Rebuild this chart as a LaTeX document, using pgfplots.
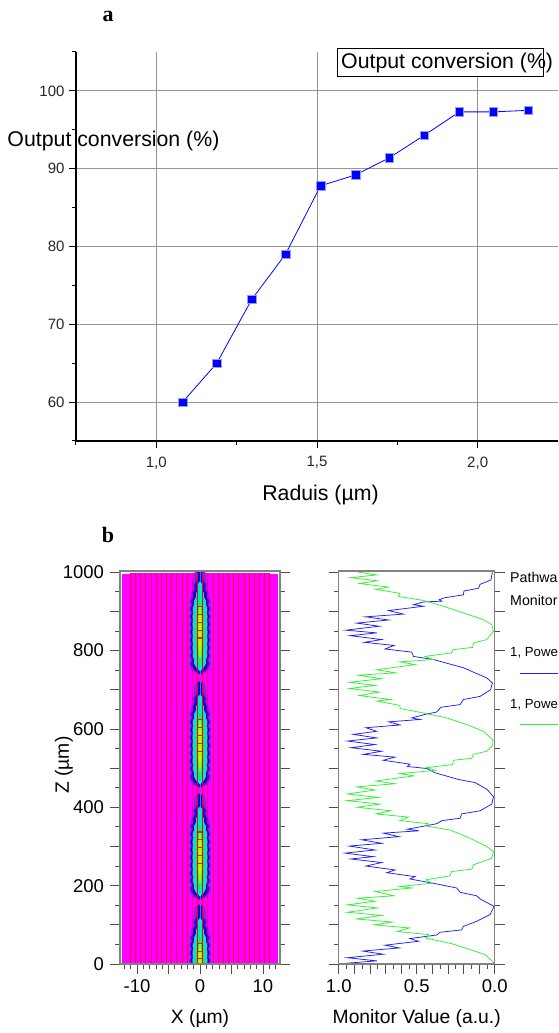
\documentclass[border=0pt]{standalone}
\usepackage{pgfplots}
\usepackage{pgfplotstable}
\usepackage{fontspec}
\pgfplotsset{compat=1.18}
\setmainfont{Liberation Sans}
\newfontfamily\serifb{Liberation Serif}
\definecolor{bgm}{RGB}{255,0,255}
\definecolor{lineR}{RGB}{255,0,70}
\definecolor{haloc}{RGB}{140,30,240}
\definecolor{bluec}{RGB}{20,0,225}
\definecolor{cyanc}{RGB}{0,225,225}
\definecolor{greenc}{RGB}{0,240,120}
\definecolor{yellowc}{RGB}{190,240,0}
\definecolor{linegreen}{RGB}{50,240,50}
\definecolor{lineblue}{RGB}{30,30,245}
\definecolor{gridg}{RGB}{150,150,150}
\definecolor{frameg}{RGB}{130,130,130}

\pgfplotstableread{
z w0 w1 w2 w3 w4
-8 0 0 0 0 0
0 1.2 0.7 0 0 0
10 1.6 1.2 0.6 0 0
20 1.75 1.45 0.95 0.3 0
30 1.55 1.22 0.95 0.45 0
40 1.8 1.5 1.15 0.6 0.15
50 1.6 1.28 1.05 0.65 0.2
60 1.8 1.52 1.2 0.7 0.25
70 1.6 1.3 1.1 0.7 0.3
80 1.8 1.52 1.22 0.75 0.35
90 1.6 1.3 1.1 0.75 0.35
100 1.8 1.52 1.22 0.78 0.38
110 1.6 1.3 1.1 0.75 0.35
120 1.8 1.52 1.22 0.75 0.35
130 1.6 1.3 1.1 0.72 0.3
140 1.8 1.52 1.2 0.7 0.28
150 1.6 1.28 1.05 0.65 0.2
160 1.8 1.5 1.15 0.6 0.15
170 1.55 1.25 0.95 0.45 0
180 1.7 1.42 0.95 0.3 0
190 1.4 1.08 0.6 0 0
200 1.4 1.1 0.6 0.2 0
210 1.1 0.8 0.3 0 0
220 1.2 0.9 0.45 0 0
230 1.0 0.55 0 0 0
240 0.95 0.45 0 0 0
256 0.8 0.4 0 0 0
264 0 0 0 0 0
}\shape

\pgfplotstableread{
z m
85 0
105 0
125 0
145 0
165 0
}\rungs

\pgfplotstableread{
v z
0.015 1000
0.024 980
0.094 969
0.103 959
0.197 952
0.201 942
0.318 935
0.355 930
0.340 926
0.457 924
0.520 917
0.457 913
0.680 902
0.585 893
0.827 886
0.680 878
0.885 870
0.740 862
0.955 852
0.756 845
0.927 838
0.724 828
0.835 821
0.645 813
0.703 804
0.532 796
0.521 785
0.393 777
0.200 756
0.137 745
0.050 730
0.015 717
0.026 700
0.094 683
0.200 675
0.222 662
0.346 655
0.372 643
0.447 637
0.532 628
0.479 624
0.680 618
0.607 610
0.825 603
0.756 594
0.906 586
0.756 577
0.944 569
0.767 560
0.921 552
0.724 543
0.842 535
0.639 528
0.714 520
0.543 510
0.560 504
0.436 499
0.382 488
0.233 471
0.126 463
0.050 446
0.008 427
0.019 408
0.094 391
0.212 383
0.222 372
0.338 366
0.372 358
0.560 344
0.485 340
0.714 334
0.613 325
0.853 317
0.724 308
0.932 301
0.767 291
0.960 283
0.778 274
0.923 268
0.724 259
0.825 250
0.639 240
0.692 233
0.511 223
0.543 217
0.393 206
0.244 194
0.222 183
0.115 174
0.094 166
0.004 147
0.030 126
0.115 109
0.201 96
0.212 87
0.350 81
0.372 74
0.543 65
0.489 58
0.703 48
0.611 41
0.846 33
0.714 25
0.944 16
0.756 8
0.980 1
}\bluedata

\pgfplotstableread{
v z
0.874 1000
0.756 993
0.923 986
0.752 978
0.868 971
0.682 962
0.761 956
0.607 946
0.618 938
0.457 928
0.329 913
0.201 896
0.073 879
0.019 866
0.008 849
0.051 828
0.137 819
0.141 808
0.269 802
0.276 794
0.447 785
0.393 777
0.607 771
0.510 764
0.756 751
0.632 743
0.874 737
0.724 728
0.932 719
0.767 711
0.932 703
0.739 694
0.868 685
0.667 675
0.756 671
0.607 660
0.607 652
0.436 639
0.308 628
0.179 611
0.073 594
0.013 573
0.013 558
0.051 543
0.137 535
0.147 525
0.265 520
0.269 509
0.436 501
0.380 494
0.607 486
0.520 480
0.761 467
0.639 460
0.885 452
0.767 444
0.944 434
0.746 425
0.944 417
0.735 408
0.880 400
0.667 391
0.761 383
0.553 375
0.607 366
0.425 358
0.436 352
0.286 342
0.158 321
0.051 300
0.008 287
0.019 270
0.137 253
0.147 242
0.276 236
0.286 225
0.440 215
0.404 206
0.607 198
0.532 194
0.767 185
0.645 174
0.880 168
0.767 160
0.944 151
0.752 143
0.944 132
0.724 124
0.889 115
0.656 107
0.774 100
0.547 92
0.624 83
0.425 75
0.440 66
0.276 52
0.158 37
0.062 24
0.000 1
}\greendata

\newcommand{\layer}[3]{%
  \addplot[fill=#2,draw=none,smooth,tension=0.6] table[x expr=\thisrow{#1},y expr=\thisrow{z}+#3]{\shape};
  \addplot[fill=#2,draw=none,smooth,tension=0.6] table[x expr=-\thisrow{#1},y expr=\thisrow{z}+#3]{\shape};
}
\newcommand{\lobe}[1]{%
  \layer{w0}{haloc}{#1}
  \layer{w1}{bluec}{#1}
  \layer{w2}{cyanc}{#1}
  \layer{w3}{greenc}{#1}
  \layer{w4}{yellowc}{#1}
  \addplot[only marks,mark=-,mark size=2.6pt,mark options={draw=orange!15!red,line width=1.1pt}]
    table[x=m,y expr=\thisrow{z}+#1]{\rungs};
}
\newcommand{\ticksmall}{\fontsize{15}{15}\selectfont}
\newcommand{\ticklarge}{\fontsize{18.5}{18.5}\selectfont}
\newcommand{\labelfont}{\fontsize{19.3}{19.3}\selectfont}
\newcommand{\lab}{\fontsize{21.3}{21.3}\selectfont}

\begin{document}
\begin{tikzpicture}[x=1pt,y=1pt]
\clip (0,0) rectangle (558,1033);
\path[use as bounding box] (0,0) rectangle (558,1033);

% ---------- panel a
\begin{axis}[
  at={(76pt,592pt)},anchor=south west,
  scale only axis,width=482pt,height=389pt,
  xmin=0.75,xmax=2.25,ymin=55,ymax=105,
  axis x line=bottom,axis y line=left,
  axis line style={-,black,line width=1.2pt},
  xtick={1,1.5,2},xticklabels={{1,0},{1,5},{2,0}},
  minor xtick={0.75,1.25,1.75,2.25},
  ytick={60,70,80,90,100},yticklabels={60,70,80,90,100},
  minor ytick={55,65,75,85,95,105},
  tick style={black,line width=1pt},
  tick align=outside,
  major tick length=7pt,minor tick length=4pt,
  grid=major,
  major grid style={gridg,line width=1pt},
  tick label style={font=\ticksmall,text=black!85},
  xticklabel style={yshift=-5pt},
  yticklabel style={xshift=-1pt},
  xlabel={Raduis (µm)},
  xlabel style={font=\lab,at={(axis description cs:0.5,0)},anchor=center,yshift=-54pt,xshift=3.5pt},
  ylabel={Output conversion (\%)},
  ylabel style={font=\lab,rotate=-90,at={(axis description cs:0.0777,0.771)},anchor=center},
  clip=false,
]
\addplot[blue,line width=0.8pt,mark=square*,mark size=4.3pt,
  mark options={fill=blue,draw=white!60!blue,line width=0.4pt}] coordinates {
  (1.082,60.0)(1.188,65.0)(1.297,73.2)(1.402,79.0)(1.511,87.8)(1.620,89.2)
  (1.725,91.4)(1.834,94.3)(1.943,97.3)(2.048,97.3)(2.157,97.5)};
\end{axis}
\node[draw=black,fill=white,line width=0.8pt,minimum width=206pt,minimum height=28pt,inner sep=0pt] at (440,971) {};
\node[anchor=west,inner sep=0pt,font=\lab] at (341,970) {Output conversion (\%)};
\node[font=\serifb\bfseries\fontsize{22}{22}\selectfont] at (108,1017) {a};
\node[font=\serifb\bfseries\fontsize{22}{22}\selectfont] at (108,498) {b};

% ---------- panel b, field
\begin{axis}[
  at={(120pt,69pt)},anchor=south west,
  scale only axis,width=160pt,height=393pt,
  xmin=-12.7,xmax=12.7,ymin=0,ymax=1003,
  axis on top,clip mode=individual,
  axis line style={frameg,line width=1.4pt},
  xtick={-10,-5,0,5,10},xticklabels={-10,,0,,10},
  minor xtick={-12,-11,-9,-8,-7,-6,-4,-3,-2,-1,1,2,3,4,6,7,8,9,11,12},
  ytick={0,100,200,300,400,500,600,700,800,900,1000},
  yticklabels={0,,200,,400,,600,,800,,1000},
  minor ytick={50,150,250,350,450,550,650,750,850,950},
  xtick pos=bottom,ytick pos=both,
  tick align=outside,
  major tick length=10pt,minor tick length=5pt,
  tick style={black!70,line width=0.8pt},
  tick label style={font=\ticklarge,text=black},
  xticklabel style={yshift=-2pt},
  yticklabel style={xshift=-2.5pt},
  xlabel={X (µm)},
  xlabel style={font=\labelfont,at={(axis description cs:0.5,0)},anchor=center,yshift=-55pt},
  ylabel={Z (µm)},
  ylabel style={font=\labelfont,at={(axis description cs:-0.35,0.506)},anchor=center,rotate=0},
]
\addplot[fill=bgm,draw=none] coordinates {(-12.4,0)(12.4,0)(12.4,996)(-12.4,996)};
\addplot[fill=bgm,draw=none] coordinates {(-11.1,0)(11.1,0)(11.1,999)(-11.1,999)};
\addplot[lineR,line width=0.55pt] coordinates {
 (-11.07,0)(-11.07,999)

 (-10.25,0)(-10.25,999)

 (-9.43,0)(-9.43,999)

 (-8.61,0)(-8.61,999)

 (-7.79,0)(-7.79,999)

 (-6.97,0)(-6.97,999)

 (-6.15,0)(-6.15,999)

 (-5.33,0)(-5.33,999)

 (-4.51,0)(-4.51,999)

 (-3.69,0)(-3.69,999)

 (-2.87,0)(-2.87,999)

 (-2.05,0)(-2.05,999)

 (2.05,0)(2.05,999)

 (2.87,0)(2.87,999)

 (3.69,0)(3.69,999)

 (4.51,0)(4.51,999)

 (5.33,0)(5.33,999)

 (6.15,0)(6.15,999)

 (6.97,0)(6.97,999)

 (7.79,0)(7.79,999)

 (8.61,0)(8.61,999)

 (9.43,0)(9.43,999)

 (10.25,0)(10.25,999)

 (11.07,0)(11.07,999)
};
\lobe{747}
\lobe{458}
\lobe{172}
\lobe{-112}
\addplot[red,line width=0.55pt,opacity=0.45] coordinates {
 (-1.23,0)(-1.23,999)

 (1.23,0)(1.23,999)
};
\addplot[red,line width=0.7pt] coordinates {
 (-0.41,0)(-0.41,999)

 (0.41,0)(0.41,999)
};
\draw[black,line width=0.9pt] (axis cs:-12.7,0) -- (axis cs:12.7,0);
\end{axis}

% ---------- panel b, monitor
\begin{axis}[
  at={(338.7pt,69pt)},anchor=south west,
  scale only axis,width=156pt,height=393pt,
  xmin=0,xmax=1,x dir=reverse,ymin=0,ymax=1003,
  axis on top,clip mode=individual,
  axis line style={frameg,line width=1.4pt},
  xtick={0,0.1,...,1.01},xticklabels={0.0,,,,,0.5,,,,,1.0},
  minor xtick={0.05,0.15,0.25,0.35,0.45,0.55,0.65,0.75,0.85,0.95},
  ytick={0,100,200,300,400,500,600,700,800,900,1000},
  yticklabels={},
  minor ytick={50,150,250,350,450,550,650,750,850,950},
  xtick pos=bottom,ytick pos=both,
  tick align=outside,
  major tick length=10pt,minor tick length=5pt,
  tick style={black!70,line width=0.8pt},
  tick label style={font=\ticklarge,text=black},
  xticklabel style={yshift=-2pt},
  xlabel={Monitor Value (a.u.)},
  xlabel style={font=\labelfont,at={(axis description cs:0.5,0)},anchor=center,yshift=-55pt},
]
\addplot[lineblue,line width=0.75pt] table[x=v,y=z]{\bluedata};
\addplot[linegreen,line width=0.75pt] table[x=v,y=z]{\greendata};
\draw[black,line width=0.9pt] (axis cs:1,0) -- (axis cs:0,0);
\end{axis}

% ---------- legend text
\node[anchor=west,inner sep=0pt,font=\fontsize{14.2}{14.2}\selectfont] at (510,456) {Pathwa};
\node[anchor=west,inner sep=0pt,font=\fontsize{14.2}{14.2}\selectfont] at (510,433) {Monitor};
\node[anchor=west,inner sep=0pt,font=\fontsize{13.2}{13.2}\selectfont] at (510,380) {1, Powe};
\draw[lineblue,line width=0.8pt] (520,360) -- (558,360);
\node[anchor=west,inner sep=0pt,font=\fontsize{13.2}{13.2}\selectfont] at (510,328) {1, Powe};
\draw[linegreen,line width=0.8pt] (520,308.5) -- (558,308.5);
\end{tikzpicture}
\end{document}
